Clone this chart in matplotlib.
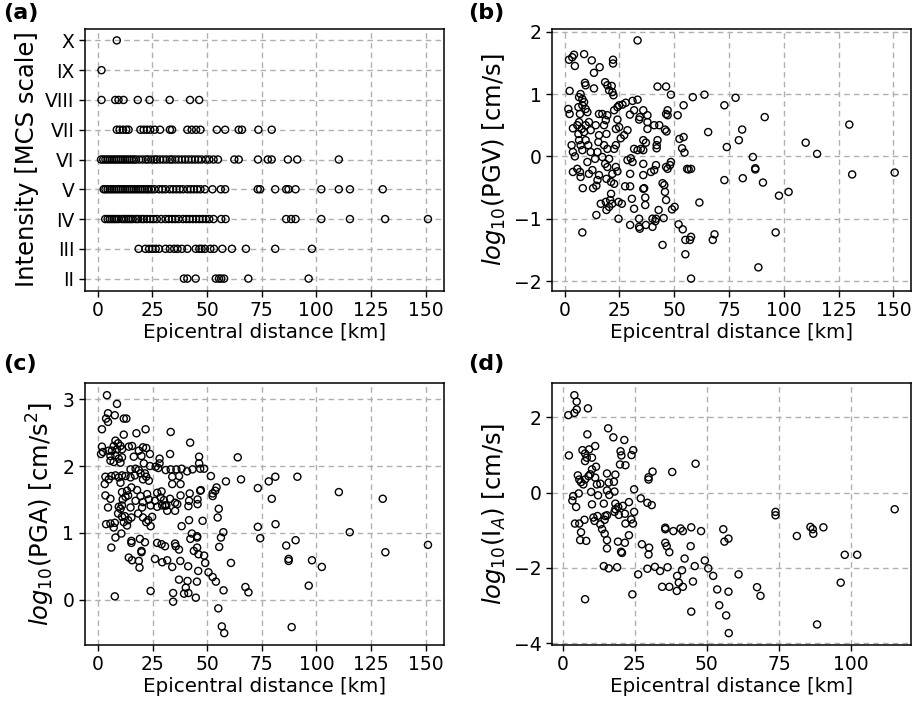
import numpy as np
import matplotlib
matplotlib.use("Agg")
import matplotlib.pyplot as plt

# ---------------- Panel (a): intensity vs distance ----------------
int_levels = [2, 3, 4, 5, 6, 7, 8, 9, 10]
int_labels = ["II", "III", "IV", "V", "VI", "VII", "VIII", "IX", "X"]

dist_X = [8.7]
dist_IX = [1.7]
dist_VIII = [1.7, 8.0, 9.5, 11.8, 18.3, 23.7, 32.9, 42.2, 46.4]
dist_VII = [8.7, 10.0, 11.5, 13.0, 14.1, 19.5, 21.0, 22.5, 24.0, 26.0, 28.5, 33.0, 34.0,
            41.0, 43.0, 45.0, 47.0, 54.5, 58.3, 64.5, 66.0, 73.5, 79.6]
dist_VI = [1.5, 2.5, 3.5, 4.5, 5.5, 6.5, 7.5, 8.5, 9.5, 10.5, 11.5, 12.5, 13.5, 14.5, 15.5,
           16.5, 17.5, 19.0, 20.5, 22.0, 23.0, 24.5, 26.0, 27.0, 28.5, 30.0, 31.5, 33.0,
           34.0, 35.5, 37.0, 38.5, 40.0, 41.5, 43.0, 44.5, 46.0, 47.5, 49.5, 51.0, 53.0,
           55.0, 62.5, 64.5, 73.3, 77.8, 79.6, 87.0, 91.3, 110.3]
dist_V = [2.7, 3.5, 4.5, 5.5, 6.5, 7.5, 8.5, 9.5, 10.5, 11.5, 12.5, 13.5, 14.5, 15.5, 16.5,
          17.5, 18.5, 19.5, 20.5, 21.5, 22.5, 23.3, 24.5, 26.0, 28.0, 29.5, 31.0, 33.0, 34.5,
          36.0, 37.5, 39.0, 41.0, 42.5, 44.0, 45.5, 47.0, 49.0, 52.5, 56.3, 58.3, 73.2, 74.3,
          81.2, 86.2, 87.3, 90.5, 102.3, 110.3, 115.4, 130.4]
dist_IV = [3.4, 4.5, 5.5, 6.5, 7.5, 8.5, 9.5, 11.0, 12.0, 13.0, 14.0, 15.0, 16.0, 17.5, 18.5,
           20.0, 21.0, 22.5, 24.0, 25.5, 27.0, 29.0, 31.0, 32.5, 34.0, 35.5, 37.0, 39.0, 40.5,
           42.0, 43.5, 45.0, 46.5, 48.0, 49.5, 51.0, 53.0, 56.5, 58.5, 86.2, 88.5, 90.5,
           102.3, 115.4, 131.5, 151.1]
dist_III = [18.7, 21.8, 23.5, 25.0, 26.5, 28.0, 31.0, 33.0, 35.0, 36.5, 38.5, 41.0, 44.8,
            46.5, 47.5, 49.0, 51.5, 53.2, 57.0, 61.4, 67.8, 81.2, 98.0]
dist_II = [39.4, 41.0, 44.8, 54.0, 55.5, 56.5, 57.8, 68.9, 96.5]

# ---------------- Panel (b): log10(PGV) ----------------
pgv_points = [
    (33.3, 1.86), (2.0, 1.55), (3.5, 1.59), (4.3, 1.63), (4.7, 1.45), (8.9, 1.64), (12.4, 1.54),
    (13.4, 1.34), (16.0, 1.43), (22.1, 1.55), (22.1, 1.49), (2.3, 1.05), (9.3, 1.18), (9.6, 1.14),
    (13.4, 1.09), (18.5, 1.19), (19.5, 1.14), (21.5, 1.13), (20.3, 1.06), (21.8, 1.03), (22.3, 0.98),
    (42.4, 1.12), (46.3, 1.12), (48.5, 0.99), (58.5, 0.95), (54.3, 0.82),
    (1.7, 0.76), (2.3, 0.68), (3.8, 0.45), (3.2, 0.18), (3.8, 0.07), (4.7, 0.0), (3.8, -0.25),
    (5.8, 0.50), (6.6, 0.95), (7.3, 1.0), (8.1, 0.92), (6.3, 0.79), (7.0, 0.68), (8.1, 0.82),
    (8.9, 0.87), (9.6, 0.76), (10.4, 0.71), (6.6, 0.55), (7.8, 0.44), (8.9, 0.39), (9.6, 0.50),
    (11.1, 0.55), (11.9, 0.42), (6.3, 0.36), (6.6, 0.26), (7.3, 0.18), (8.1, 0.10), (9.6, 0.26),
    (10.8, 0.18), (11.9, 0.07), (5.8, -0.20), (7.0, -0.25), (7.3, -0.33), (8.3, -0.51),
    (8.1, -1.22), (10.4, -0.09), (11.1, -0.28), (12.7, -0.22), (13.0, -0.51), (14.5, -0.47),
    (15.0, -0.38), (15.7, -0.30), (14.5, -0.94), (13.9, -0.04), (15.0, 0.07), (15.4, 0.23),
    (15.7, 0.34), (14.2, 0.50), (15.7, 0.68), (17.2, 0.68), (18.0, 0.50), (18.8, 0.58),
    (19.5, 0.66), (19.1, 0.36), (18.0, 0.18), (19.5, 0.12), (17.2, -0.01), (18.5, -0.12),
    (19.5, -0.17), (19.1, -0.36), (21.2, -0.41), (21.8, -0.28), (23.4, -0.17), (24.1, -0.24),
    (16.5, -0.76), (18.8, -0.73), (20.3, -0.81), (19.1, -0.86), (21.2, -0.60), (21.7, -0.76),
    (20.8, -0.70), (22.6, -0.44), (20.3, -0.04), (22.6, 0.12), (23.4, 0.18), (23.4, 0.44),
    (24.9, 0.47), (24.1, 0.59), (22.6, 0.74), (24.1, 0.79), (24.9, 0.82), (26.4, 0.83),
    (27.9, 0.86), (31.0, 0.89), (33.3, 0.91), (25.6, 0.29), (27.2, 0.34), (28.7, 0.42),
    (29.8, 0.67), (31.7, 0.74), (34.3, 0.63), (34.0, 0.59), (35.9, 0.74), (37.8, 0.66),
    (37.8, 0.55), (37.8, 0.44), (40.9, 0.50), (43.2, 0.50), (45.8, 0.43), (46.5, 0.40),
    (46.3, 0.68), (47.0, 0.74), (47.0, 0.66), (51.6, 0.66), (24.6, -0.73), (26.1, -0.76),
    (24.6, -1.0), (27.6, -0.48), (29.9, -0.48), (28.7, -0.06), (30.2, -0.03), (31.0, -0.09),
    (29.9, -0.28), (30.7, -0.68), (31.7, -0.84), (29.9, -1.10), (34.0, -1.0), (34.0, -1.13),
    (34.3, -1.16), (31.7, 0.12), (33.3, 0.10), (34.8, 0.12), (35.9, 0.10), (35.9, -0.12),
    (35.9, -0.30), (36.3, -0.51), (35.9, -0.52), (36.8, -0.66), (36.8, -0.78), (37.1, 0.22),
    (35.9, 0.26), (37.1, -1.10), (40.1, -1.13), (40.1, -1.00), (41.4, -1.04), (41.7, -1.00),
    (42.4, 0.26), (42.0, 0.18), (42.0, 0.13), (39.4, -0.25), (40.9, -0.22), (41.7, -0.14),
    (42.9, -0.86), (44.7, -0.43), (45.5, -0.46), (45.8, -0.57), (46.3, -0.70), (46.3, -0.17),
    (47.0, -0.20), (48.1, -0.14), (48.5, -0.09), (45.2, -0.99), (44.7, -1.42), (49.0, -0.85),
    (50.2, -0.81), (52.0, -1.09), (53.9, -1.17), (55.1, -1.34), (57.7, -1.29), (57.2, -1.34),
    (55.1, -1.57), (57.7, -1.96), (52.4, 0.28), (54.3, 0.31), (53.6, 0.13), (54.7, 0.06),
    (55.9, -0.20), (56.6, -0.21), (57.7, -0.20), (61.5, -0.74),
    (63.8, 0.99), (78.0, 0.94), (72.9, 0.82), (91.3, 0.63), (65.5, 0.39), (81.0, 0.43),
    (79.5, 0.26), (74.0, 0.15), (110.0, 0.22), (115.2, 0.04), (129.9, 0.51), (85.9, -0.01),
    (87.0, -0.19), (87.0, -0.21), (72.9, -0.38), (81.3, -0.35), (90.5, -0.42), (131.2, -0.29),
    (150.6, -0.26), (97.8, -0.63), (102.2, -0.57), (68.4, -1.25), (67.6, -1.34), (96.3, -1.22),
    (88.4, -1.78),
]

# ---------------- Panel (c): log10(PGA) ----------------
pga_points = [
    (4.1, 3.06), (8.7, 2.93), (4.6, 2.79), (7.7, 2.76), (3.7, 2.71), (4.6, 2.66), (11.8, 2.71),
    (13.0, 2.71), (1.8, 2.55), (21.8, 2.55), (17.6, 2.49), (11.8, 2.47), (33.3, 2.51), (42.2, 2.35),
    (1.8, 2.29), (1.4, 2.18), (2.3, 2.21), (4.9, 2.23), (8.0, 2.38), (9.2, 2.34), (7.2, 2.30),
    (10.3, 2.30), (6.4, 2.23), (8.7, 2.25), (11.0, 2.25), (5.7, 2.15), (8.0, 2.16), (9.5, 2.11),
    (11.0, 2.13), (5.7, 2.08), (7.2, 2.06), (10.3, 2.05), (14.1, 2.29), (15.6, 2.30), (18.7, 2.23),
    (20.6, 2.28), (22.1, 2.27), (19.9, 2.15), (16.4, 2.14), (23.8, 2.18), (28.2, 2.11), (28.2, 2.04),
    (33.0, 2.18), (21.0, 2.04), (23.8, 2.00), (26.4, 1.99), (27.6, 1.97), (31.0, 1.94), (33.3, 1.95),
    (35.9, 1.95), (38.3, 1.96), (40.8, 1.92), (43.3, 1.95), (46.3, 2.14), (46.3, 2.04), (46.8, 1.96),
    (48.6, 1.96), (64.0, 2.13), (34.0, 1.84), (37.1, 1.85), (51.7, 1.85), (58.6, 1.77), (65.5, 1.80),
    (73.2, 1.67), (73.2, 1.09), (74.3, 0.92), (3.4, 1.84), (6.1, 1.85), (4.9, 1.80), (3.1, 1.73),
    (8.0, 1.86), (9.5, 1.83), (11.0, 1.86), (10.3, 1.75), (12.6, 1.85), (14.9, 1.95), (17.2, 1.96),
    (18.7, 1.94), (19.5, 1.89), (21.5, 1.89), (22.1, 1.84), (23.3, 1.78), (20.6, 1.80), (16.9, 1.86),
    (14.9, 1.83), (15.3, 1.68), (17.9, 1.64), (13.3, 1.63), (11.0, 1.61), (3.4, 1.56), (5.7, 1.51),
    (4.6, 1.38), (3.7, 1.13), (5.7, 1.14), (7.7, 1.15), (7.2, 1.08), (10.7, 0.99), (8.0, 0.93),
    (6.1, 0.78), (11.0, 1.41), (9.5, 1.39), (10.3, 1.36), (11.3, 1.50), (12.6, 1.54), (13.8, 1.56),
    (9.2, 1.29), (11.0, 1.24), (12.3, 1.25), (14.9, 1.38), (15.3, 1.23), (11.8, 1.16), (13.8, 1.19),
    (13.3, 1.11), (17.2, 1.48), (19.5, 1.55), (20.6, 1.46), (22.5, 1.58), (23.3, 1.50), (24.1, 1.41),
    (26.1, 1.48), (27.1, 1.60), (28.7, 1.53), (30.2, 1.49), (31.3, 1.41), (33.0, 1.51), (35.3, 1.45),
    (36.3, 1.43), (37.8, 1.56), (42.0, 1.59), (41.7, 1.48), (45.6, 1.50), (46.8, 1.63), (47.1, 1.64),
    (45.6, 1.43), (37.8, 1.73), (34.0, 1.73), (29.1, 1.62), (20.2, 1.38), (18.4, 1.29), (20.6, 1.23),
    (23.0, 1.19), (22.1, 1.16), (24.1, 1.10), (24.8, 1.24), (27.1, 1.39), (29.4, 1.41), (30.7, 1.41),
    (31.7, 1.33), (35.3, 1.33), (41.4, 1.40), (41.7, 1.19), (47.9, 1.18), (52.5, 1.59), (53.7, 1.63),
    (54.3, 1.68), (52.5, 1.55), (55.3, 1.36), (54.8, 1.23), (57.4, 1.01), (56.3, 0.93), (55.5, 0.79),
    (60.9, 0.55), (7.7, 0.05), (15.3, 0.88), (15.3, 0.85), (19.2, 0.91), (21.5, 0.86), (19.9, 0.73),
    (19.9, 0.71), (27.1, 0.85), (29.1, 0.83), (30.7, 0.80), (35.3, 0.84), (35.6, 0.80), (37.1, 0.75),
    (38.3, 1.10), (42.3, 0.91), (43.0, 0.99), (45.4, 0.95), (45.4, 0.93), (43.9, 0.73), (45.4, 0.78),
    (46.0, 0.68), (48.6, 0.66), (49.1, 0.55), (14.1, 0.63), (15.6, 0.59), (18.7, 0.58), (19.0, 0.48),
    (26.1, 0.61), (29.4, 0.56), (31.7, 0.59), (34.0, 0.49), (37.7, 0.58), (41.3, 0.50), (45.9, 0.43),
    (50.6, 0.41), (52.5, 0.34), (54.0, 0.27), (37.1, 0.30), (41.0, 0.28), (45.3, 0.27), (40.2, 0.18),
    (24.1, 0.13), (34.4, 0.10), (34.4, -0.03), (39.4, 0.09), (41.4, 0.10), (44.8, 0.03), (57.5, 0.14),
    (67.5, 0.19), (68.9, 0.11), (55.1, -0.13), (56.7, -0.40), (57.8, -0.50), (88.7, -0.41),
    (91.3, 1.84), (81.2, 1.84), (78.2, 1.77), (79.6, 1.51), (110.3, 1.61), (130.4, 1.51),
    (81.3, 1.13), (115.3, 1.01), (86.2, 0.81), (90.5, 0.89), (87.3, 0.61), (87.3, 0.58),
    (98.0, 0.59), (102.5, 0.49), (96.5, 0.21), (131.6, 0.71), (151.1, 0.82),
]

# ---------------- Panel (d): log10(I_A) ----------------
ia_points = [
    (4.1, 2.59), (4.9, 2.42), (4.9, 2.21), (4.1, 2.12), (2.0, 2.06), (8.8, 2.24), (2.2, 0.99),
    (8.6, 1.55), (15.8, 1.71), (17.6, 1.47), (21.4, 1.40), (6.9, 1.13), (7.8, 1.04), (9.2, 1.15),
    (11.3, 1.24), (8.4, 0.93), (10.2, 0.93), (7.8, 0.84), (10.2, 0.62), (11.6, 0.69), (9.6, 0.49),
    (9.0, 0.44), (5.3, 0.46), (5.8, 0.35), (6.4, 0.28), (7.2, 0.22), (7.8, 0.35), (11.3, 0.40),
    (11.9, 0.22), (13.1, 0.24), (15.4, 0.51), (18.3, 0.48), (16.0, 0.27), (17.8, 0.29), (20.1, 1.10),
    (20.4, 0.99), (24.5, 1.13), (23.9, 1.00), (19.9, 0.75), (21.8, 0.73), (15.4, 0.06), (18.0, 0.03),
    (16.2, -0.06), (9.9, 0.02), (12.3, -0.07), (5.6, -0.02), (3.7, -0.09), (3.4, -0.21), (4.7, -0.38),
    (10.2, -0.31), (14.3, -0.29), (18.3, -0.29), (18.3, -0.44), (19.3, -0.38), (20.9, -0.35),
    (23.0, -0.25), (24.8, 0.09), (27.1, -0.15), (29.4, -0.27), (30.9, -0.33), (29.8, 0.35),
    (29.8, 0.41), (31.2, 0.56), (38.0, 0.55), (46.1, 0.77), (4.3, -0.82), (5.8, -0.82), (7.6, -0.72),
    (6.4, -1.05), (6.1, -1.26), (8.2, -1.28), (10.7, -0.66), (11.1, -0.75), (12.1, -0.62),
    (14.8, -0.62), (15.4, -0.60), (14.6, -0.72), (13.1, -0.84), (13.7, -0.97), (14.6, -1.09),
    (15.4, -1.26), (15.4, -1.48), (18.0, -0.51), (19.5, -0.59), (21.6, -0.56), (21.8, -0.82),
    (23.8, -0.71), (24.8, -0.51), (24.4, -0.82), (23.0, -1.13), (19.2, -1.30), (21.6, -1.33),
    (20.3, -1.57), (20.6, -1.60), (14.3, -1.95), (16.0, -2.01), (18.9, -1.98), (7.8, -2.83),
    (24.2, -2.70), (26.2, -2.17), (27.5, -1.37), (30.0, -1.46), (29.8, -1.64), (29.4, -2.02),
    (32.0, -1.97), (33.8, -2.08), (35.6, -0.93), (35.6, -0.97), (35.6, -1.33), (36.1, -1.42),
    (37.0, -1.58), (36.4, -1.98), (38.4, -1.02), (41.7, -1.02), (40.9, -0.95), (44.6, -0.92),
    (44.4, -1.42), (48.0, -1.02), (42.3, -1.75), (41.4, -2.06), (39.7, -2.21), (40.3, -2.39),
    (39.6, -2.61), (41.7, -2.50), (37.0, -2.50), (34.5, -2.50), (45.2, -2.36), (45.8, -1.95),
    (44.6, -3.16), (49.3, -1.80), (50.5, -2.01), (52.2, -2.21), (53.6, -2.57), (54.3, -2.99),
    (55.7, -0.97), (56.1, -1.30), (57.5, -1.22), (73.8, -0.51), (73.8, -0.60), (81.2, -1.15),
    (85.9, -0.91), (86.7, -0.97), (86.9, -1.09), (90.4, -0.92), (97.8, -1.65), (102.1, -1.65),
    (115.1, -0.44), (61.0, -2.17), (57.5, -2.63), (56.7, -3.26), (67.4, -2.51), (68.6, -2.74),
    (96.4, -2.39), (88.2, -3.50), (57.6, -3.73),
]

XLABEL = "Epicentral distance [km]"

fig = plt.figure(figsize=(9.21, 7.17), dpi=100)
W, H = 921.0, 717.0
ax_a = fig.add_axes([84.7 / W, 1 - 290.5 / H, 359.6 / W, 262.0 / H])
ax_b = fig.add_axes([552.0 / W, 1 - 290.5 / H, 359.0 / W, 262.0 / H])
ax_c = fig.add_axes([84.7 / W, 1 - 645.0 / H, 359.6 / W, 261.7 / H])
ax_d = fig.add_axes([552.0 / W, 1 - 645.0 / H, 359.0 / W, 261.7 / H])

mk = dict(s=26, facecolors="none", edgecolors="black", linewidths=1.0, zorder=3)

TICK_FS = 13.5
XL_FS = 14.3
YL_FS = 17.5

def style(ax):
    ax.set_axisbelow(True)
    ax.grid(True, linestyle=(0, (4, 3)), color="#b0b0b0", linewidth=1.0)
    ax.tick_params(labelsize=TICK_FS, length=4.5, width=1, pad=3)
    for sp in ax.spines.values():
        sp.set_linewidth(1.1)
    ax.xaxis.labelpad = 2

# (a)
rows = [(2, dist_II), (3, dist_III), (4, dist_IV), (5, dist_V), (6, dist_VI),
        (7, dist_VII), (8, dist_VIII), (9, dist_IX), (10, dist_X)]
for lev, d in rows:
    ax_a.scatter(d, np.full(len(d), lev), **mk)
ax_a.set_yticks(int_levels)
ax_a.set_yticklabels(int_labels)
ax_a.set_xticks([0, 25, 50, 75, 100, 125, 150])
ax_a.set_ylabel("Intensity [MCS scale]", fontsize=YL_FS)
ax_a.set_xlabel(XLABEL, fontsize=XL_FS)
style(ax_a)

# (b)
pb = np.array(pgv_points)
ax_b.scatter(pb[:, 0], pb[:, 1], **mk)
ax_b.set_xticks([0, 25, 50, 75, 100, 125, 150])
ax_b.set_yticks([-2, -1, 0, 1, 2])
ax_b.set_ylabel(r"$log_{10}$(PGV) [cm/s]", fontsize=YL_FS)
ax_b.set_xlabel(XLABEL, fontsize=XL_FS)
style(ax_b)

# (c)
pc = np.array(pga_points)
ax_c.scatter(pc[:, 0], pc[:, 1], **mk)
ax_c.set_xticks([0, 25, 50, 75, 100, 125, 150])
ax_c.set_yticks([0, 1, 2, 3])
ax_c.set_ylabel(r"$log_{10}$(PGA) [cm/s$^2$]", fontsize=YL_FS)
ax_c.set_xlabel(XLABEL, fontsize=XL_FS)
style(ax_c)

# (d)
pd_ = np.array(ia_points)
ax_d.scatter(pd_[:, 0], pd_[:, 1], **mk)
ax_d.set_xticks([0, 25, 50, 75, 100])
ax_d.set_yticks([-4, -2, 0, 2])
ax_d.set_ylabel(r"$log_{10}$(I$_A$) [cm/s]", fontsize=YL_FS)
ax_d.set_xlabel(XLABEL, fontsize=XL_FS)
style(ax_d)

for lab, x, y in [("(a)", 3, 3), ("(b)", 468, 3), ("(c)", 3, 354), ("(d)", 468, 354)]:
    fig.text(x / W, 1 - y / H, lab, fontsize=16, fontweight="bold", va="top", ha="left")

fig.savefig("out.png", dpi=100)
